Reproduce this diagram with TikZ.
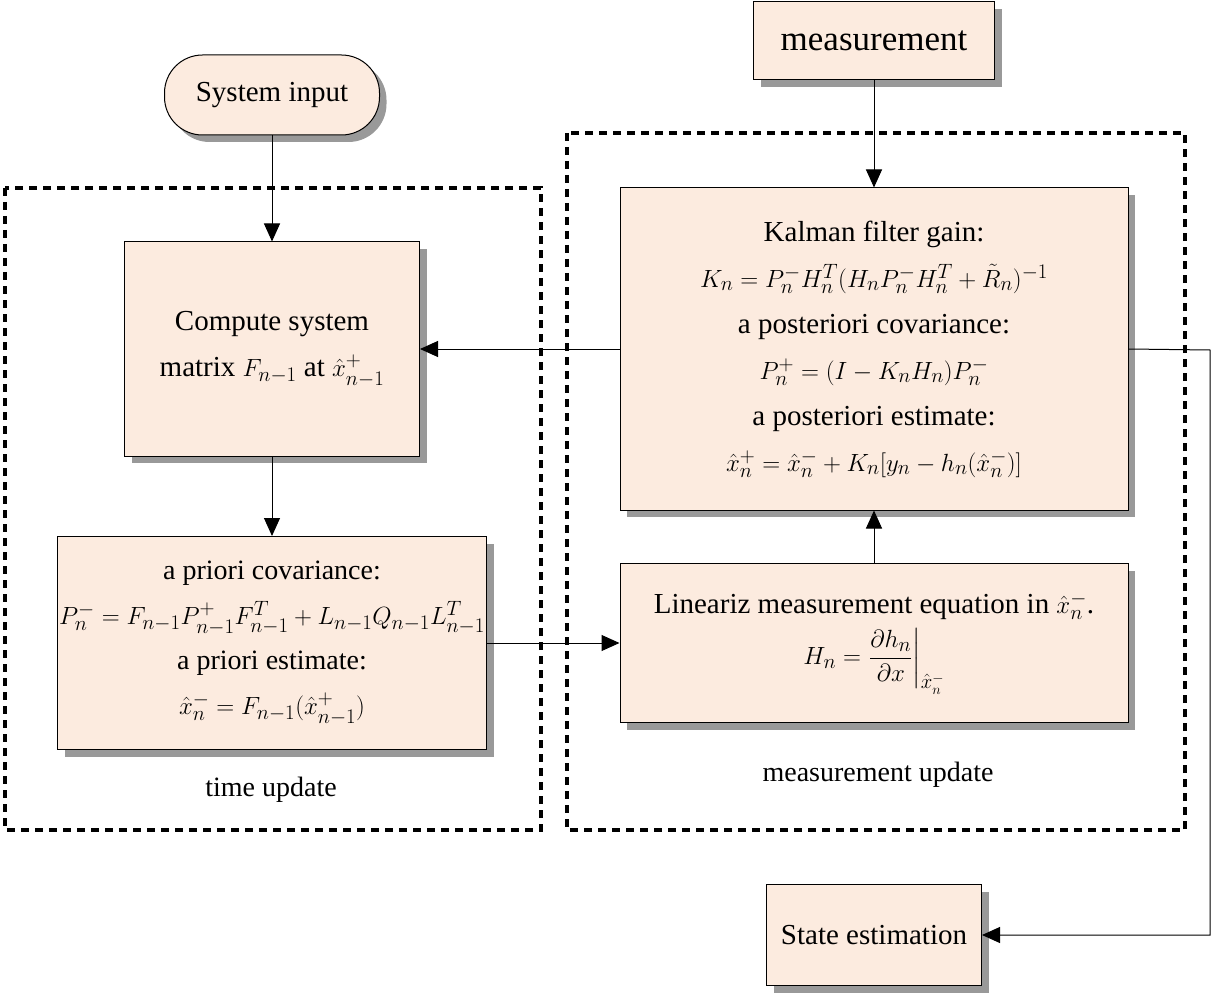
\documentclass[tikz,border=0pt]{standalone}
\usepackage{amsmath}
\usepackage{fontspec}
\setmainfont{Liberation Serif}
\usetikzlibrary{arrows.meta,shadows}
\definecolor{boxfill}{HTML}{FCEBDF}
\begin{document}
\begin{tikzpicture}[x=1pt,y=-1pt,
 box/.style={draw=black,line width=1pt,fill=boxfill,drop shadow={shadow xshift=7pt,shadow yshift=-7pt,fill=black!40,opacity=1},align=center,inner sep=0pt,font=\fontsize{29}{46}\selectfont},
 arr/.style={-{Triangle[length=18pt,width=16pt]},line width=1pt},
 grp/.style={line width=4pt,dash pattern=on 8pt off 6pt}]
\useasboundingbox (0,0) rectangle (1212,1000);
\draw[grp] (5,188) rectangle (541,830);
\draw[grp] (567,133) rectangle (1185,830);
\node[box,rounded corners=38pt,minimum width=215pt,minimum height=80pt] (sys) at (272,95) {System input};
\node[box,minimum width=241pt,minimum height=78pt,font=\fontsize{35}{40}\selectfont] (meas) at (874,41) {measurement};
\node[box,minimum width=295pt,minimum height=214pt] (comp) at (272,349) {Compute system\\matrix $F_{n-1}$ at $\hat{x}_{n-1}^{+}$};
\node[box,minimum width=429pt,minimum height=213pt,font=\fontsize{28}{45}\selectfont] (prio) at (272,643) {a priori covariance:\\$P_n^-=F_{n-1}P_{n-1}^{+}F_{n-1}^{T}+L_{n-1}Q_{n-1}L_{n-1}^{T}$\\a priori estimate:\\$\hat{x}_n^-=F_{n-1}(\hat{x}_{n-1}^{+})$};
\node[box,minimum width=508pt,minimum height=322pt] (kal) at (874,349) {Kalman filter gain:\\$K_n=P_n^-H_n^T(H_nP_n^-H_n^T+\tilde{R}_n)^{-1}$\\a posteriori covariance:\\$P_n^+=(I-K_nH_n)P_n^-$\\a posteriori estimate:\\$\hat{x}_n^+=\hat{x}_n^-+K_n[y_n-h_n(\hat{x}_n^-)]$};
\node[box,minimum width=508pt,minimum height=159pt,font=\fontsize{29}{36}\selectfont] (lin) at (874,643) {Lineariz measurement equation in $\hat{x}_n^-$.\\[8pt]$H_n=\left.\dfrac{\partial h_n}{\partial x}\right|_{\hat{x}_n^-}$};
\node[box,minimum width=215pt,minimum height=101pt] (st) at (874,935) {State estimation};
\node[font=\fontsize{28}{30}\selectfont] (tu) at (271,790) {time update};
\node[font=\fontsize{28}{30}\selectfont] (mu) at (878,775) {measurement update};
\coordinate (c1) at (1210,350);
\coordinate (c2) at (1210,935);
\draw[arr] (sys) -- (comp);
\draw[arr] (meas) -- (kal);
\draw[arr] (kal.west) -- (comp.east);
\draw[arr] (comp) -- (prio);
\draw[arr] (prio.east) -- (lin.west);
\draw[arr] (lin) -- (kal);
\draw[arr] (kal.east) -- (c1) -- (c2) -- (st.east);
\end{tikzpicture}
\end{document}
